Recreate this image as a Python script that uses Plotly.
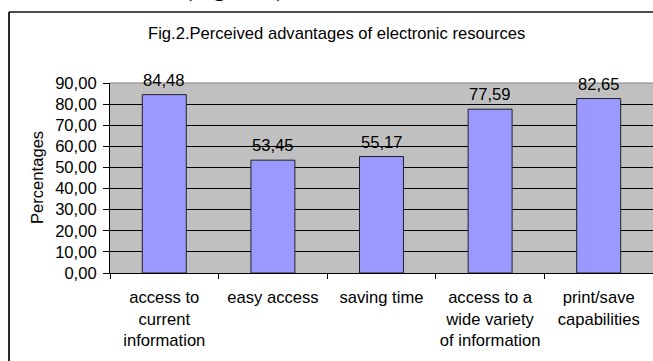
import plotly.graph_objects as go

categories = ["access to<br>current<br>information", "easy access", "saving time",
              "access to a<br>wide variety<br>of information", "print/save<br>capabilities"]
values = [84.48, 53.45, 55.17, 77.59, 82.65]
y_ticks = [0, 10, 20, 30, 40, 50, 60, 70, 80, 90]
title_text = "Fig.2.Perceived advantages of electronic resources"
y_title = "Percentages"
top_caption = "(Figure 2)"

W, H = 653, 361
L, R, T, B = 110, 0, 83, 88
PW, PH = W - L - R, H - T - B

def px_x(p):
    return (p - L) / PW

def px_y(p):
    return (H - B - p) / PH

FONT = "Liberation Sans, Arial, sans-serif"
FS = 16.6

fig = go.Figure()
fig.add_trace(go.Bar(
    x=categories, y=values,
    marker=dict(color="#9999FF", line=dict(color="#222222", width=1)),
    width=0.405,
    hoverinfo="skip",
))

annotations = []
for c, v in zip(categories, values):
    annotations.append(dict(
        x=c, y=v, xref="x", yref="y", text=f"{v:.2f}".replace(".", ","),
        showarrow=False, yanchor="bottom", yshift=3,
        font=dict(family=FONT, size=FS, color="black"),
    ))

annotations.append(dict(
    x=px_x(336), y=px_y(33), xref="paper", yref="paper", text=title_text,
    showarrow=False, xanchor="center", yanchor="middle",
    font=dict(family=FONT, size=FS, color="black"),
))
annotations.append(dict(
    x=px_x(37), y=px_y(178), xref="paper", yref="paper", text=y_title,
    showarrow=False, xanchor="center", yanchor="middle", textangle=-90,
    font=dict(family=FONT, size=FS, color="black"),
))
annotations.append(dict(
    x=px_x(234), y=px_y(4.2), xref="paper", yref="paper", text=top_caption,
    showarrow=False, xanchor="center", yanchor="bottom",
    font=dict(family="Liberation Serif, Times New Roman, serif", size=25, color="black"),
))

shapes = [
    dict(type="line", xref="paper", yref="paper", x0=px_x(9), x1=px_x(W + 10),
         y0=px_y(12), y1=px_y(12), line=dict(color="#111111", width=1.5)),
    dict(type="line", xref="paper", yref="paper", x0=px_x(9), x1=px_x(9),
         y0=px_y(12), y1=px_y(H + 10), line=dict(color="#111111", width=1.8)),
    dict(type="line", xref="paper", yref="paper", x0=0, x1=1,
         y0=1, y1=1, line=dict(color="#808080", width=1)),
]

fig.update_layout(
    width=W, height=H,
    margin=dict(l=L, r=R, t=T, b=B, autoexpand=False),
    paper_bgcolor="white", plot_bgcolor="#C0C0C0",
    separators=", ",
    showlegend=False,
    bargap=0.595,
    annotations=annotations,
    shapes=shapes,
    font=dict(family=FONT, size=FS, color="black"),
)
fig.update_xaxes(
    type="category", tickson="boundaries", ticks="outside", ticklen=5,
    tickcolor="black", showline=True, linecolor="black", linewidth=1,
    showgrid=False, tickfont=dict(family=FONT, size=FS, color="black"),
    tickangle=0, ticklabelstandoff=9,
)
fig.update_yaxes(
    range=[0, 90], tickvals=y_ticks, tickformat=".2f",
    ticks="outside", ticklen=6, tickcolor="black",
    showline=True, linecolor="black", linewidth=1,
    showgrid=True, gridcolor="black", gridwidth=1,
    zeroline=False, tickfont=dict(family=FONT, size=FS, color="black"),
    ticklabelstandoff=3,
)

fig.write_html("out.html")
